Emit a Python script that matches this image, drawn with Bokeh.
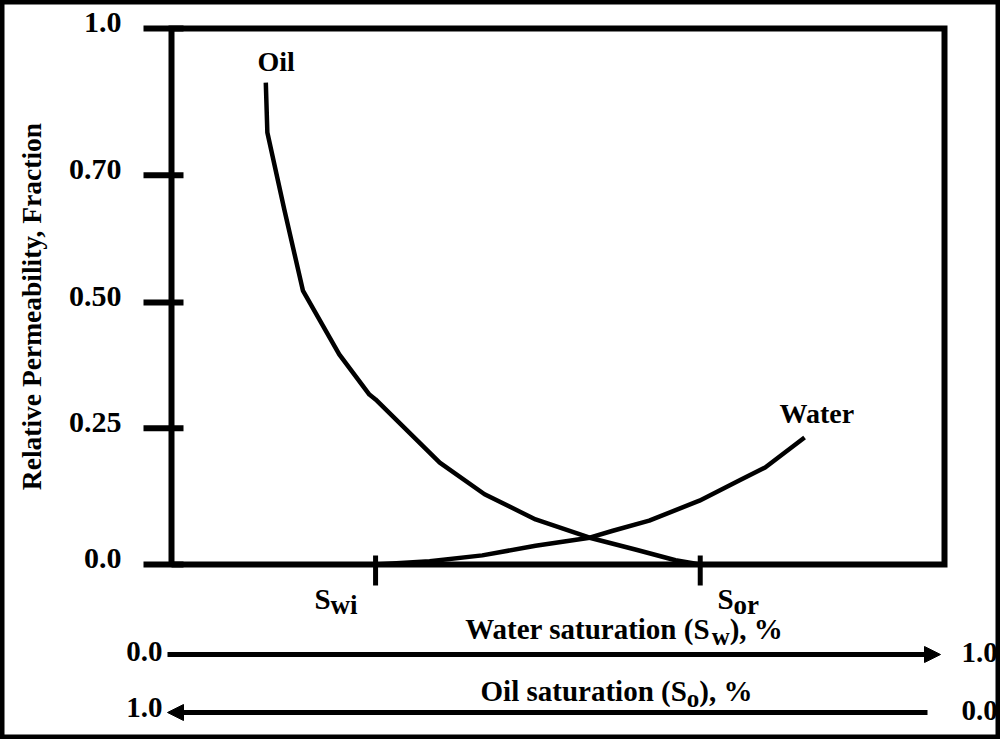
import math
from bokeh.plotting import figure
from bokeh.models import Label, Arrow, NormalHead, Range1d
from bokeh.core.properties import value
from bokeh.embed import file_html
from bokeh.resources import INLINE

# ---------------- data ----------------
oil_sw = [0.122, 0.124, 0.146, 0.170, 0.217, 0.256, 0.264, 0.347, 0.405, 0.471, 0.541, 0.600, 0.652, 0.684]
oil_kr = [0.899, 0.806, 0.662, 0.511, 0.392, 0.317, 0.308, 0.190, 0.131, 0.084, 0.050, 0.028, 0.008, 0.0]

water_sw = [0.264, 0.334, 0.402, 0.471, 0.541, 0.571, 0.618, 0.683, 0.735, 0.768, 0.819]
water_kr = [0.0, 0.006, 0.017, 0.035, 0.050, 0.063, 0.082, 0.119, 0.157, 0.181, 0.237]

swi = 0.264
sor = 0.684

y_tick_pos = [0.0, 0.254, 0.489, 0.726, 1.0]
y_tick_labels = ["0.0", "0.25", "0.50", "0.70", "1.0"]

# ---------------- layout helpers (page pixels -> data) ----------------
FONT = "Liberation Serif"
FX0, FX1 = 179.0, 952.0     # page x of Sw = 0 and Sw = 1
FY0, FY1 = 572.0, 36.0      # page y of kr = 0 and kr = 1
PXX = 1.0 / (FX1 - FX0)     # data units per pixel (x)
PXY = 1.0 / (FY0 - FY1)     # data units per pixel (y)


def dx(px):
    return (px - FX0) * PXX


def dy(py):
    return (FY0 - py) * PXY


TW = {"S": 556, "w": 722, "i": 278, "o": 500, "r": 444, "W": 1000, "a": 500, "t": 333,
      "e": 444, " ": 250, "s": 389, "u": 556, "n": 556, "(": 333, ")": 333, ",": 250,
      "%": 1000, "O": 778, "l": 278}


def tw(s, size):
    return sum(TW[c] for c in s) * size / 1000.0


W, H = 1000, 739
p = figure(width=W, height=H, output_backend="svg", toolbar_location=None,
           x_axis_location=None, y_axis_location=None, title=None,
           x_range=Range1d(dx(8), dx(8 + W)), y_range=Range1d(dy(8 + H), dy(8)),
           min_border=0, min_border_left=0, min_border_right=0,
           min_border_top=0, min_border_bottom=0)
p.grid.visible = False
p.outline_line_color = "black"
p.outline_line_width = 8
p.background_fill_color = "white"
p.border_fill_color = "white"

# plot box
p.line([0, 1, 1, 0, 0], [0, 0, 1, 1, 0], line_width=6, line_color="black", line_join="miter")

# y ticks (28 px out, 12 px in) and labels
p.segment(x0=[-28 * PXX] * len(y_tick_pos), y0=y_tick_pos,
          x1=[12 * PXX] * len(y_tick_pos), y1=y_tick_pos,
          line_width=6, line_color="black")
p.text(x=[dx(129)] * len(y_tick_pos), y=y_tick_pos, text=y_tick_labels,
       y_offset=-6, text_font=value(FONT), text_font_size="30px", text_font_style="bold",
       text_color="black", text_align="right", text_baseline="middle")

# y title
p.text(x=[dx(39)], y=[dy(314)], text=["Relative Permeability, Fraction"], angle=math.pi / 2,
       text_font=value(FONT), text_font_size="27.5px", text_font_style="bold",
       text_color="black", text_align="center", text_baseline="middle")

# x ticks at Swi and Sor (9 px in, 21 px out)
p.segment(x0=[swi, sor], y0=[9 * PXY] * 2, x1=[swi, sor], y1=[-21 * PXY] * 2,
          line_width=5, line_color="black")

# curves
p.line(oil_sw, oil_kr, line_width=4.5, line_color="black", line_join="round")
p.line(water_sw, water_kr, line_width=4.5, line_color="black", line_join="round")


def lab(x, y, text, size="28px", align="left"):
    p.add_layout(Label(x=x, y=y, text=text, text_font=FONT, text_font_size=size,
                       text_font_style="bold", text_color="black",
                       text_align=align, text_baseline="middle"))


lab(dx(265), dy(69), "Oil")
lab(dx(787), dy(421), "Water")


def sub_text(left_px, mid_py, main, sub, tail="", size=29, sub_size=25, drop=7):
    lab(dx(left_px), dy(mid_py), main, size=f"{size}px")
    xs = left_px + tw(main, size)
    lab(dx(xs), dy(mid_py + drop), sub, size=f"{sub_size}px")
    if tail:
        xt = xs + tw(sub, sub_size)
        lab(dx(xt), dy(mid_py), tail, size=f"{size}px")


def centered_sub(center_px, mid_py, main, sub, tail, size=29, sub_size=25, drop=8):
    total = tw(main, size) + tw(sub, sub_size) + tw(tail, size)
    sub_text(center_px - total / 2.0, mid_py, main, sub, tail, size, sub_size, drop)


sub_text(322, 606, "S", "wi", size=29, sub_size=27, drop=6)
sub_text(725, 606, "S", "or", size=29, sub_size=27, drop=6)
centered_sub(631.5, 636, "Water saturation (S", "w", "), %")
centered_sub(624, 698, "Oil saturation (S", "o", "), %")

# saturation arrows
p.add_layout(Arrow(x_start=dx(175), y_start=dy(662), x_end=dx(948), y_end=dy(662),
                   line_width=5, line_color="black",
                   end=NormalHead(size=16, fill_color="black", line_color="black", line_width=1)))
p.add_layout(Arrow(x_start=dx(935), y_start=dy(720), x_end=dx(175), y_end=dy(720),
                   line_width=5, line_color="black",
                   end=NormalHead(size=16, fill_color="black", line_color="black", line_width=1)))

lab(dx(170), dy(659), "0.0", size="29px", align="right")
lab(dx(969), dy(660), "1.0", size="29px", align="left")
lab(dx(170), dy(715), "1.0", size="29px", align="right")
lab(dx(969), dy(718), "0.0", size="29px", align="left")

open("out.html", "w").write(file_html(p, INLINE))
